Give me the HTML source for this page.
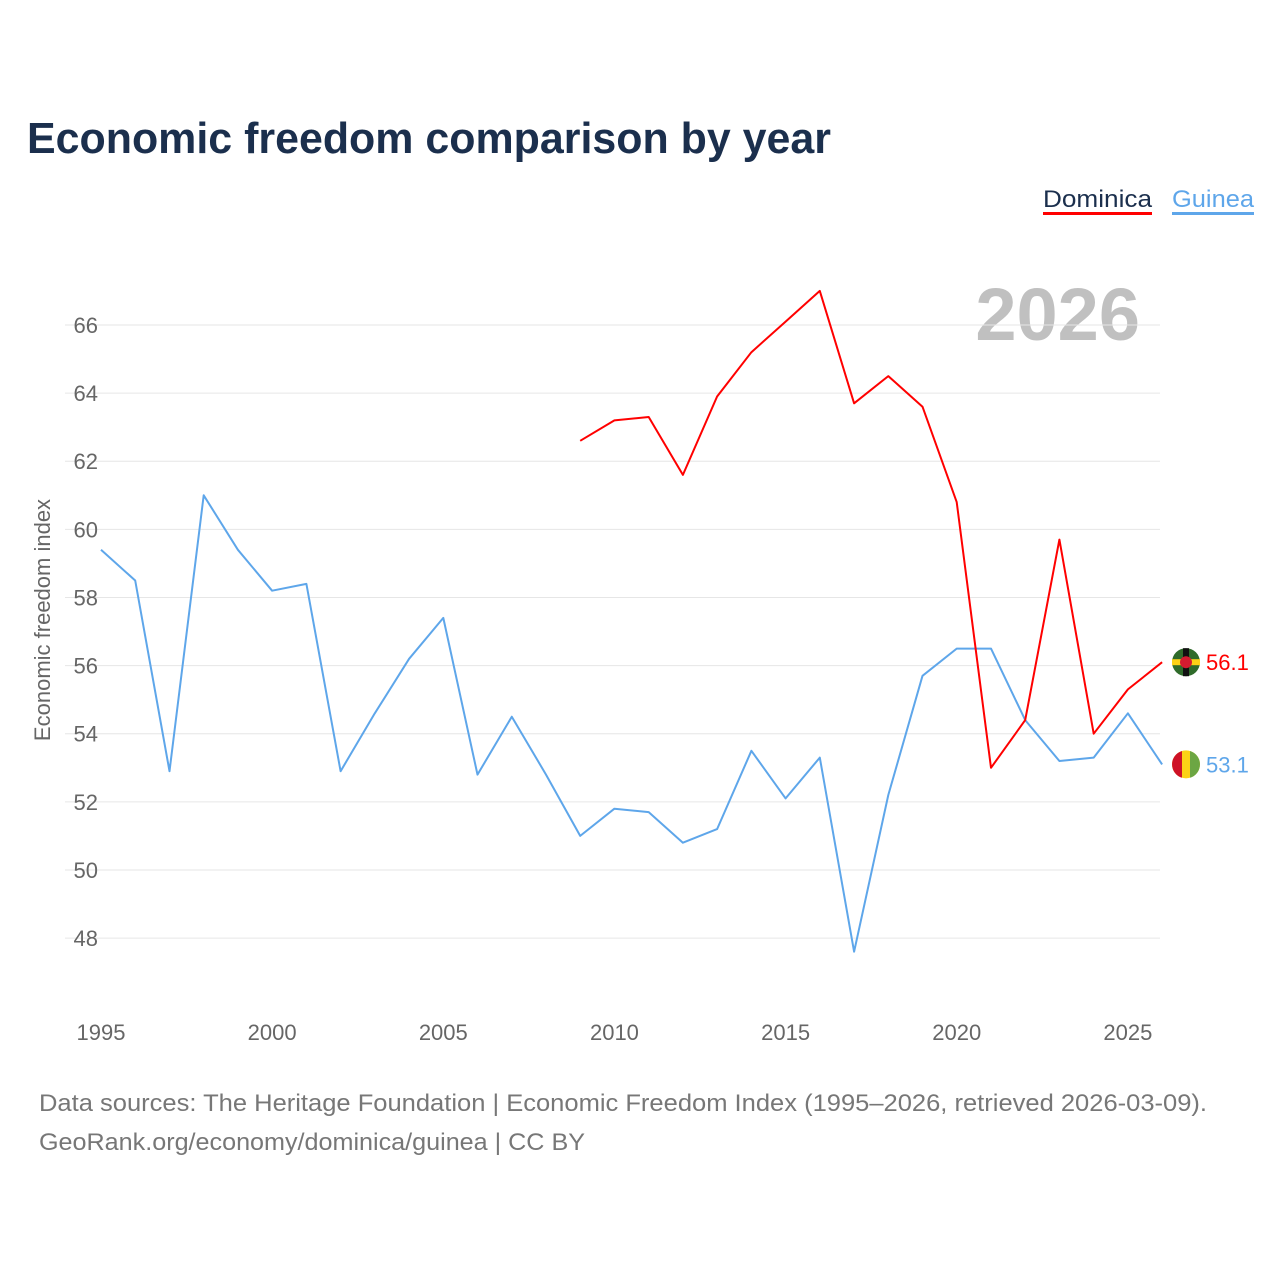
<!DOCTYPE html>
<html><head><meta charset="utf-8"><style>
body{margin:0;background:#fff;font-family:"Liberation Sans",sans-serif;}
#wrap{position:relative;width:1280px;height:1280px;overflow:hidden;}
</style></head><body>
<div id="wrap">
<svg id="chart" width="1280" height="1280">
<text x="27" y="153" font-size="44" font-weight="bold" fill="#1b2f4d" textLength="804" lengthAdjust="spacingAndGlyphs">Economic freedom comparison by year</text>
<g>
<text x="1043" y="207" font-size="24" fill="#1b2f4d" textLength="109" lengthAdjust="spacingAndGlyphs">Dominica</text>
<rect x="1043" y="212" width="109" height="3" fill="#ff0000"/>
<text x="1172" y="207" font-size="24" fill="#5ea6ea" textLength="82" lengthAdjust="spacingAndGlyphs">Guinea</text>
<rect x="1172" y="212" width="82" height="3" fill="#5ea6ea"/>
</g>
<text x="1140" y="340" text-anchor="end" font-size="74" font-weight="bold" fill="#c0c0c0">2026</text>
<g id="grid"></g><g id="axes"></g><g id="lines"></g><g id="ends"></g>
<text transform="translate(50,620) rotate(-90)" text-anchor="middle" font-size="22" fill="#666">Economic freedom index</text>
<text x="39" y="1111" font-size="24" fill="#777" textLength="1168" lengthAdjust="spacingAndGlyphs">Data sources: The Heritage Foundation | Economic Freedom Index (1995–2026, retrieved 2026-03-09).</text>
<text x="39" y="1150" font-size="24" fill="#777" textLength="546" lengthAdjust="spacingAndGlyphs">GeoRank.org/economy/dominica/guinea | CC BY</text>
</svg>
</div>
<script>
const years=[1995,1996,1997,1998,1999,2000,2001,2002,2003,2004,2005,2006,2007,2008,2009,2010,2011,2012,2013,2014,2015,2016,2017,2018,2019,2020,2021,2022,2023,2024,2025,2026];
const guinea=[59.4,58.5,52.9,61.0,59.4,58.2,58.4,52.9,54.6,56.2,57.4,52.8,54.5,52.8,51.0,51.8,51.7,50.8,51.2,53.5,52.1,53.3,47.6,52.2,55.7,56.5,56.5,54.4,53.2,53.3,54.6,53.1];
const dominica=[null,null,null,null,null,null,null,null,null,null,null,null,null,null,62.6,63.2,63.3,61.6,63.9,65.2,66.1,67.0,63.7,64.5,63.6,60.8,53.0,54.4,59.7,54.0,55.3,56.1];
const yTicks=[48,50,52,54,56,58,60,62,64,66];
const xTicks=[1995,2000,2005,2010,2015,2020,2025];
const NS="http://www.w3.org/2000/svg";
const X=y=>101+(y-1995)*34.23;
const Y=v=>325+(66-v)*34.06;
function mk(t,a,p){const e=document.createElementNS(NS,t);for(const k in a)e.setAttribute(k,a[k]);document.getElementById(p).appendChild(e);return e;}
yTicks.forEach(t=>{
 const l=mk('line',{x1:65,x2:1160,y1:Y(t),y2:Y(t),stroke:'#e6e6e6','stroke-width':1},'grid');
 
 
 const tx=mk('text',{x:98,y:Y(t)+8,'text-anchor':'end','font-size':22,fill:'#666'},'axes');
 tx.textContent=t;
 
 
});
xTicks.forEach(t=>{
 const tx=mk('text',{x:X(t),y:1040,'text-anchor':'middle','font-size':22,fill:'#666'},'axes');
 tx.textContent=t;
 
 
});
function path(vals,col,name){
 let d='';vals.forEach((v,i)=>{if(v==null)return;d+=(d?'L':'M')+X(years[i]).toFixed(1)+','+Y(v).toFixed(1);});
 const p=mk('path',{d:d,fill:'none',stroke:col,'stroke-width':2,'stroke-linejoin':'round'},'lines');
 
 
}
path(guinea,'#5ea6ea','guinea-line');
path(dominica,'#ff0000','dominica-line');
function endLabel(v,col,name,flag){
 const y=Y(v);
 const g=mk('g',{},'ends');
 
 
 const cx=1186;
 if(flag==='dm'){
  mk('circle',{cx:cx,cy:y,r:14,fill:'#2f6b2a'},'ends');
  mk('rect',{x:cx-14,y:y-3,width:28,height:6,fill:'#fcd116'},'ends');
  mk('rect',{x:cx-3,y:y-14,width:6,height:28,fill:'#111'},'ends');
  mk('circle',{cx:cx,cy:y,r:6,fill:'#d41c30'},'ends');
 }else{
  mk('circle',{cx:cx,cy:y,r:14,fill:'#fcd116'},'ends');
  mk('path',{d:`M${cx-4},${y-13.4} A14,14 0 0 0 ${cx-4},${y+13.4} Z`,fill:'#ce1126'},'ends');
  mk('path',{d:`M${cx+4},${y-13.4} A14,14 0 0 1 ${cx+4},${y+13.4} Z`,fill:'#6ca643'},'ends');
 }
 const t=mk('text',{x:1206,y:y+8,'font-size':22,fill:col},'ends');
 t.textContent=v.toFixed(1);
 
 
}
endLabel(dominica[dominica.length-1],'#ff0000','dominica-end-label','dm');
endLabel(guinea[guinea.length-1],'#5ea6ea','guinea-end-label','gn');
</script>
</body></html>
